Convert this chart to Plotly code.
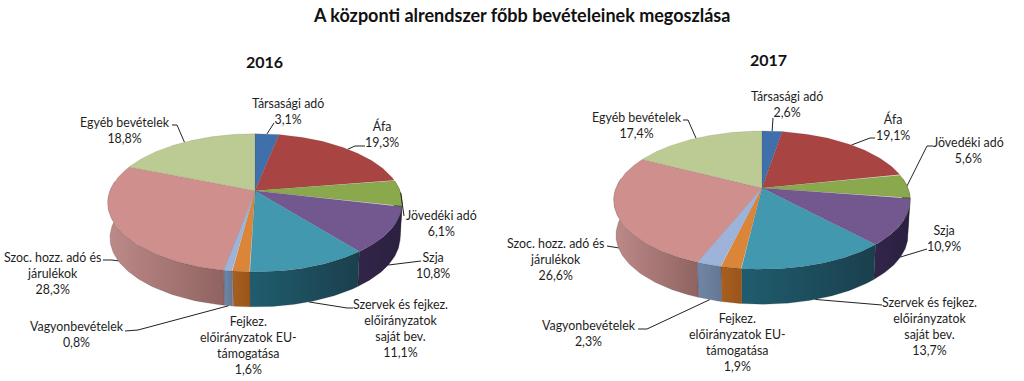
import numpy as np
import plotly.graph_objects as go

categories = ["Társasági adó", "Áfa", "Jövedéki adó", "Szja", "Szervek és fejkez.<br>előirányzatok<br>saját bev.",
              "Fejkez.<br>előirányzatok EU-<br>támogatása", "Vagyonbevételek", "Szoc. hozz. adó és<br>járulékok", "Egyéb bevételek"]
values_2016 = [3.1, 19.3, 6.1, 10.8, 11.1, 1.6, 0.8, 28.3, 18.8]
values_2017 = [2.6, 19.1, 5.6, 10.9, 13.7, 1.9, 2.3, 26.6, 17.4]
main_title = "A központi alrendszer főbb bevételeinek megoszlása"
year_2016 = "2016"
year_2017 = "2017"

top_colors = ["#4070ab", "#a84442", "#8aa94d", "#72588f", "#4198af", "#db8539", "#9db3da", "#ce8f8d", "#bccb93"]
side_colors = [("#2f5580", "#2a4a70"), ("#7d3230", "#6e2c2a"), ("#5a6f30", "#4a5c28"), ("#32254a", "#2b2040"),
               ("#1f5d6e", "#1b3f4d"), ("#a85f20", "#9a5519"), ("#7186a6", "#647895"), ("#bd8a88", "#8f6361"),
               ("#8c9a68", "#8c9a68")]

label_pos_2016 = [(288, 111), (382, 134), (441, 223), (433, 265), (400, 328), (248, 345), (77, 334), (52, 273), (125, 130)]
label_pos_2017 = [(787, 104), (893, 127), (968, 150), (944, 238), (929, 326), (737, 342), (589, 333), (555, 259), (637, 125)]
leaders_2016 = [[(274, 123)], [(355, 146), (365, 146)], [(404, 216)], [(421, 261)], [(347, 308), (353, 308)],
                None, [(138, 330), (125, 331)], [(112, 260), (103, 260)], [(177, 125), (172, 125)]]
leaders_2017 = [[(773, 118)], [(870, 138), (875, 138)], [(927, 146), (933, 146)], [(927, 249)], [(882, 305)],
                None, [(647, 329), (638, 329)], [(607, 246)], [(688, 120), (683, 120)]]
leader_on_side = [False, False, False, True, True, False, True, True, False]

K = 0.175
A = 67.0
DEPTH = 35.0
BOTTOM_SCALE = 0.985
FONT = "Lato, Carlito, sans-serif"
TEXT = "#1e1e1e"


def project(t, cx, cy, B, side=False):
    t = np.radians(t)
    X, Y = np.sin(t), -np.cos(t)
    d = 1 - K * Y
    x, y = B * X / d, A * Y / d
    if side:
        return cx + BOTTOM_SCALE * x, cy + y + DEPTH
    return cx + x, cy + y


def add_pie(fig, values, cx, cy, B, positions, leaders):
    edges = np.cumsum([0] + values) / sum(values) * 360
    # sides first
    for i in range(len(values)):
        a0, a1 = max(edges[i], 82), min(edges[i + 1], 278)
        if a1 <= a0:
            continue
        t = np.linspace(a0, a1, 60)
        xt, yt = project(t, cx, cy, B)
        xb, yb = project(t[::-1], cx, cy, B, side=True)
        fig.add_trace(go.Scatter(
            x=np.r_[xt, xb, xt[0]], y=np.r_[yt, yb, yt[0]], mode="lines",
            line=dict(color="rgba(40,40,40,0.35)", width=0.5), fill="toself",
            fillgradient=dict(type="horizontal", colorscale=[[0, side_colors[i][0]], [1, side_colors[i][1]]]),
            hoverinfo="skip", showlegend=False))
    # top face
    for i in range(len(values)):
        t = np.linspace(edges[i], edges[i + 1], 80)
        xt, yt = project(t, cx, cy, B)
        fig.add_trace(go.Scatter(
            x=np.r_[cx, xt, cx], y=np.r_[cy, yt, cy], mode="lines",
            line=dict(color="rgba(60,60,60,0.22)", width=0.5), fill="toself", fillcolor=top_colors[i],
            hoverinfo="skip", showlegend=False))
    # leaders and labels
    for i, v in enumerate(values):
        mid = (edges[i] + edges[i + 1]) / 2
        if leaders[i]:
            sx, sy = project(mid, cx, cy, B, side=leader_on_side[i])
            fig.add_trace(go.Scatter(
                x=[sx] + [p[0] for p in leaders[i]], y=[sy] + [p[1] for p in leaders[i]],
                mode="lines", line=dict(color="#222222", width=1), hoverinfo="skip", showlegend=False))
        fig.add_annotation(x=positions[i][0], y=positions[i][1], xref="x", yref="y",
                           text=f"{categories[i]}<br>{str(v).replace('.', ',')}%", showarrow=False,
                           xanchor="center", yanchor="middle", align="center",
                           font=dict(family=FONT, size=12.4, color=TEXT))


fig = go.Figure()
add_pie(fig, values_2016, 255, 190.7, 145.0, label_pos_2016, leaders_2016)
add_pie(fig, values_2017, 762, 188, 146.0, label_pos_2017, leaders_2017)

for txt, x, y, size in [(main_title, 521, 15, 18), (year_2016, 264, 61, 16), (year_2017, 768, 59, 16)]:
    fig.add_annotation(x=x, y=y, xref="x", yref="y", text=f"<b>{txt}</b>", showarrow=False,
                       xanchor="center", yanchor="middle", font=dict(family=FONT, size=size, color="#111111"))

fig.update_layout(
    width=1024, height=381, autosize=False, margin=dict(l=0, r=0, t=0, b=0),
    paper_bgcolor="white", plot_bgcolor="white", showlegend=False,
    xaxis=dict(range=[0, 1024], visible=False, fixedrange=True),
    yaxis=dict(range=[381, 0], visible=False, fixedrange=True),
)
fig.write_html("out.html", config=dict(displayModeBar=False),
               post_script="document.body.style.margin='0';document.body.style.overflow='hidden';")
